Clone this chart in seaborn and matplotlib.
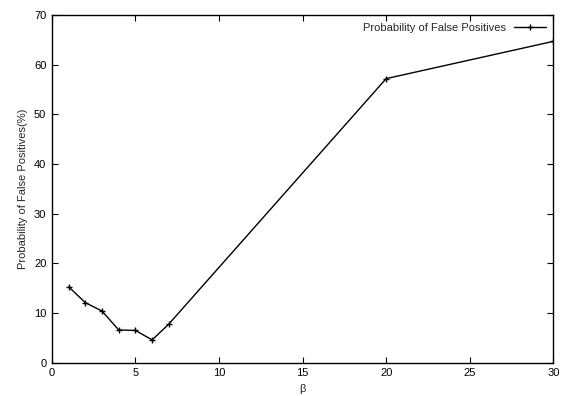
import pandas as pd
import matplotlib
matplotlib.use('Agg')
import matplotlib.pyplot as plt
import seaborn as sns

# Data
beta = [1, 2, 3, 4, 5, 6, 7, 20, 30]
false_pos = [15.3, 12.1, 10.4, 6.6, 6.5, 4.6, 7.8, 57.2, 64.7]

df = pd.DataFrame({'beta': beta, 'fp': false_pos})

sns.set_style('ticks')
plt.rcParams['font.family'] = ['Liberation Sans', 'DejaVu Sans']
plt.rcParams['font.size'] = 8

fig, ax = plt.subplots(figsize=(5.64, 3.96), dpi=100)
fig.subplots_adjust(left=0.092, right=0.981, top=0.962, bottom=0.084)

sns.lineplot(data=df, x='beta', y='fp', ax=ax, color='black', linewidth=1.0,
             marker='+', markersize=5, markeredgewidth=1.0,
             markeredgecolor='black', markerfacecolor='black',
             label='Probability of False Positives')

ax.set_xlim(0, 30)
ax.set_ylim(0, 70)
ax.set_xticks(range(0, 31, 5))
ax.set_yticks(range(0, 71, 10))
ax.tick_params(direction='in', top=True, right=True, length=4, width=0.8,
               labelsize=8, colors='black', pad=4)
for s in ax.spines.values():
    s.set_linewidth(1.0)
    s.set_color('black')
    s.set_visible(True)

ax.set_xlabel('β', fontsize=8)
ax.set_ylabel('Probability of False Positives(%)', fontsize=8)

ax.legend(loc='upper right', frameon=False, markerfirst=False, fontsize=8,
          handlelength=2.8, borderaxespad=0.3)

plt.savefig('out.png', dpi=100)
